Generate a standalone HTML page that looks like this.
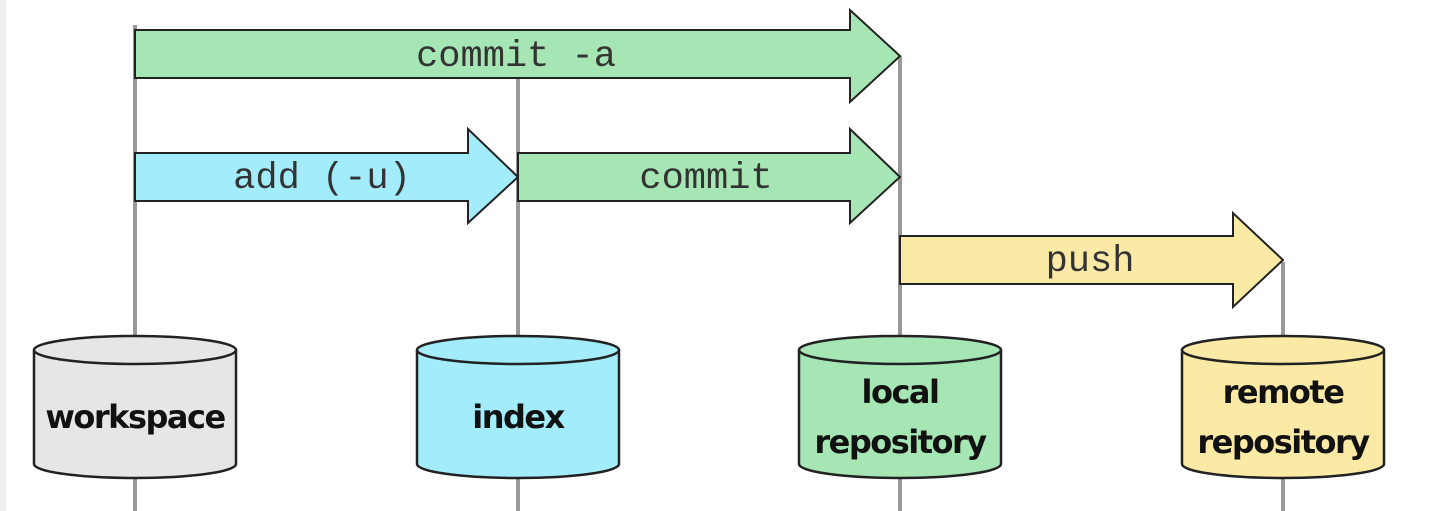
<!DOCTYPE html>
<html><head><meta charset="utf-8"><style>
html,body{margin:0;padding:0;background:#fff;}
svg{display:block}
.m{font-family:"Liberation Mono",monospace;font-size:37px;fill:#333;text-anchor:middle}
.s{font-family:"DejaVu Sans","Liberation Sans",sans-serif;font-weight:bold;font-size:32px;fill:#111;text-anchor:middle;letter-spacing:-1.5px}
</style></head><body>
<svg width="1439" height="511" viewBox="0 0 1439 511" xmlns="http://www.w3.org/2000/svg">
<rect x="0" y="0" width="6" height="511" fill="#efefef"/>
<g stroke="#999" stroke-width="4">
<line x1="135" y1="25" x2="135" y2="511"/>
<line x1="518" y1="78" x2="518" y2="511"/>
<line x1="900" y1="56" x2="900" y2="511"/>
<line x1="1283" y1="262" x2="1283" y2="511"/>
</g>
<g stroke="#222" stroke-width="2" stroke-linejoin="miter">
<polygon points="135,30 850,30 850,10 900,56 850,102 850,78 135,78" fill="#a5e6b4"/>
<polygon points="135,153 468,153 468,129 518,177 468,223 468,201 135,201" fill="#a3ecfb"/>
<polygon points="518,153 850,153 850,129 900,177 850,223 850,201 518,201" fill="#a5e6b4"/>
<polygon points="900,236 1233,236 1233,213 1283,260 1233,307 1233,284 900,284" fill="#fbe9a6"/>
</g>
<text class="m" x="516" y="66">commit -a</text>
<text class="m" x="322" y="188">add (-u)</text>
<text class="m" x="706" y="188">commit</text>
<text class="m" x="1090" y="271">push</text>
<g stroke="#222" stroke-width="2.5">
<g fill="#e6e6e6"><path d="M34,350 V464 A101,14 0 0 0 236,464 V350"/><ellipse cx="135" cy="350" rx="101" ry="14"/></g>
<g fill="#a3ecfb"><path d="M417,350 V464 A101,14 0 0 0 619,464 V350"/><ellipse cx="518" cy="350" rx="101" ry="14"/></g>
<g fill="#a5e6b4"><path d="M799,350 V464 A101,14 0 0 0 1001,464 V350"/><ellipse cx="900" cy="350" rx="101" ry="14"/></g>
<g fill="#fbe9a6"><path d="M1182,350 V464 A101,14 0 0 0 1384,464 V350"/><ellipse cx="1283" cy="350" rx="101" ry="14"/></g>
</g>
<text class="s" x="135" y="428">workspace</text>
<text class="s" x="518" y="428">index</text>
<text class="s" x="900" y="403">local</text>
<text class="s" x="900" y="453">repository</text>
<text class="s" x="1283" y="403">remote</text>
<text class="s" x="1283" y="453">repository</text>
</svg>
</body></html>
